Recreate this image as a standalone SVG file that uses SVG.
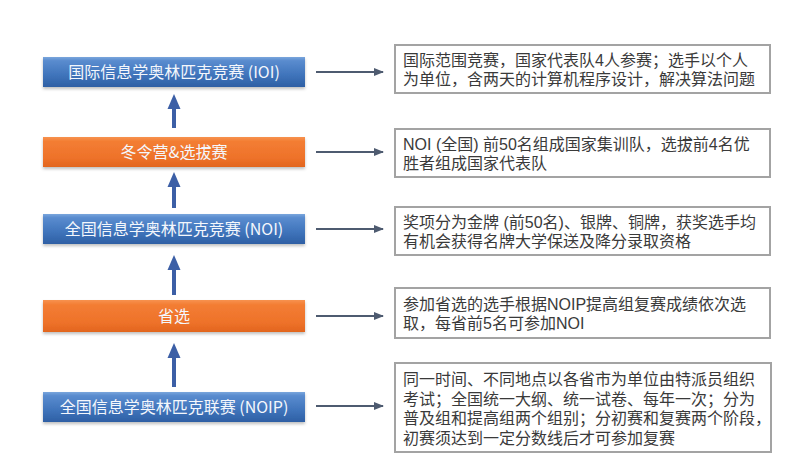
<svg xmlns="http://www.w3.org/2000/svg" width="786" height="466" viewBox="0 0 786 466">
<defs>
<linearGradient id="gBlue" x1="0" y1="0" x2="0" y2="1">
<stop offset="0" stop-color="#7aa6dc"/>
<stop offset="0.12" stop-color="#5a8ccf"/>
<stop offset="0.6" stop-color="#3f74bb"/>
<stop offset="1" stop-color="#2e5fa4"/>
</linearGradient>
<linearGradient id="gOrange" x1="0" y1="0" x2="0" y2="1">
<stop offset="0" stop-color="#f7924f"/>
<stop offset="0.15" stop-color="#f37d33"/>
<stop offset="0.7" stop-color="#ee722a"/>
<stop offset="1" stop-color="#e2651e"/>
</linearGradient>
<filter id="sh" x="-5%" y="-20%" width="110%" height="150%">
<feDropShadow dx="0" dy="2" stdDeviation="1.5" flood-color="#000" flood-opacity="0.25"/>
</filter>
<marker id="ah" markerWidth="10" markerHeight="8" refX="9" refY="4" orient="auto" markerUnits="userSpaceOnUse">
<path d="M0,0 L10,4 L0,8 z" fill="#4e5b70"/>
</marker>
</defs>
<style>
.lt{font-family:"Noto Sans CJK SC","Noto Sans",sans-serif;font-size:16px;fill:#f4f7fc;text-anchor:middle}
.rt{font-family:"Liberation Sans","Noto Sans CJK SC",sans-serif;font-size:16px;fill:#3a3a3a}
.rb{fill:#ffffff;stroke:#a3a3a3;stroke-width:2}
.conR{stroke:#4e5b70;stroke-width:2;fill:none}
.conU{stroke:#3c5fa6;stroke-width:4;fill:none}
.head{fill:#3c5fa6}
</style>
<rect width="786" height="466" fill="#ffffff"/>

<g id="ioi">
<rect x="43" y="57" width="262" height="30" fill="url(#gBlue)" filter="url(#sh)"/>
<text class="lt" x="174" y="78">国际信息学奥林匹克竞赛 (IOI)</text>
</g>
<g id="winter">
<rect x="43" y="137" width="262" height="30" fill="url(#gOrange)" filter="url(#sh)"/>
<text class="lt" x="174" y="158">冬令营&amp;选拔赛</text>
</g>
<g id="noi">
<rect x="43" y="214" width="262" height="30" fill="url(#gBlue)" filter="url(#sh)"/>
<text class="lt" x="174" y="235">全国信息学奥林匹克竞赛 (NOI)</text>
</g>
<g id="prov">
<rect x="43" y="300" width="262" height="32" fill="url(#gOrange)" filter="url(#sh)"/>
<text class="lt" x="174" y="322">省选</text>
</g>
<g id="noip">
<rect x="43" y="392" width="262" height="30" fill="url(#gBlue)" filter="url(#sh)"/>
<text class="lt" x="174" y="413">全国信息学奥林匹克联赛 (NOIP)</text>
</g>

<g id="desc-ioi">
<rect class="rb" x="395" y="45" width="375" height="48"/>
<text class="rt" x="403" y="66">国际范围竞赛，国家代表队4人参赛；选手以个人</text>
<text class="rt" x="403" y="85">为单位，含两天的计算机程序设计，解决算法问题</text>
</g>
<g id="desc-winter">
<rect class="rb" x="395" y="129" width="375" height="48"/>
<text class="rt" x="403" y="150">NOI (全国) 前50名组成国家集训队，选拔前4名优</text>
<text class="rt" x="403" y="168.5">胜者组成国家代表队</text>
</g>
<g id="desc-noi">
<rect class="rb" x="395" y="207" width="375" height="48"/>
<text class="rt" x="403" y="228">奖项分为金牌 (前50名)、银牌、铜牌，获奖选手均</text>
<text class="rt" x="403" y="246.5">有机会获得名牌大学保送及降分录取资格</text>
</g>
<g id="desc-prov">
<rect class="rb" x="395" y="288" width="375" height="50"/>
<text class="rt" x="403" y="310">参加省选的选手根据NOIP提高组复赛成绩依次选</text>
<text class="rt" x="403" y="328.5">取，每省前5名可参加NOI</text>
</g>
<g id="desc-noip">
<rect class="rb" x="395" y="363" width="376" height="89"/>
<text class="rt" x="403" y="385">同一时间、不同地点以各省市为单位由特派员组织</text>
<text class="rt" x="403" y="404.5">考试；全国统一大纲、统一试卷、每年一次；分为</text>
<text class="rt" x="403" y="424">普及组和提高组两个组别；分初赛和复赛两个阶段，</text>
<text class="rt" x="403" y="443.5">初赛须达到一定分数线后才可参加复赛</text>
</g>

<g id="connectors">
<line class="conU" x1="174" y1="128" x2="174" y2="108"/>
<path class="head" d="M167.5,109 L174,94 L180.5,109 z"/>
<line class="conU" x1="174" y1="208" x2="174" y2="186"/>
<path class="head" d="M167.5,187 L174,172 L180.5,187 z"/>
<line class="conU" x1="174" y1="295" x2="174" y2="269"/>
<path class="head" d="M167.5,270 L174,255 L180.5,270 z"/>
<line class="conU" x1="174" y1="387" x2="174" y2="357"/>
<path class="head" d="M167.5,358 L174,343 L180.5,358 z"/>

<line class="conR" x1="316" y1="72" x2="383" y2="72" marker-end="url(#ah)"/>
<line class="conR" x1="316" y1="152" x2="383" y2="152" marker-end="url(#ah)"/>
<line class="conR" x1="316" y1="229" x2="383" y2="229" marker-end="url(#ah)"/>
<line class="conR" x1="316" y1="316" x2="383" y2="316" marker-end="url(#ah)"/>
<line class="conR" x1="316" y1="406" x2="383" y2="406" marker-end="url(#ah)"/>
</g>
</svg>
